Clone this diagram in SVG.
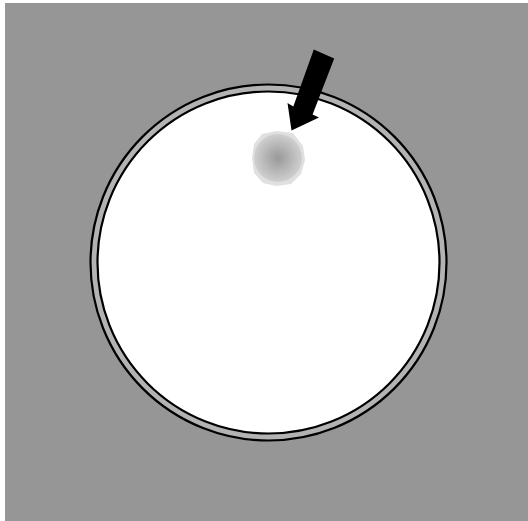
<svg xmlns="http://www.w3.org/2000/svg" width="528" height="521" viewBox="0 0 528 521">
<style>
.ring{stroke:#000;stroke-width:2.2}
</style>
<defs>
<radialGradient id="blobg" cx="50%" cy="50%" r="50%">
<stop offset="0" stop-color="#999"/>
<stop offset="0.8" stop-color="#c4c4c4"/>
<stop offset="1" stop-color="#cfcfcf"/>
</radialGradient>
</defs>
<rect x="0" y="0" width="528" height="521" fill="#fff"/>
<rect x="5" y="3" width="523" height="518" fill="#969696"/>
<g id="dish">
<circle class="ring" cx="268.5" cy="262.5" r="178" fill="#b3b3b3"/>
<circle class="ring" cx="268.5" cy="262.5" r="171" fill="#fff"/>
</g>
<g id="spot">
<polygon points="262,134 277,131 293,133 303,146 305,160 301,174 291,184 276,186 263,183 254,173 252,158 254,144" fill="#e0e0e0"/>
<circle cx="278" cy="158" r="24" fill="url(#blobg)"/>
</g>
<g id="arrow">
<polygon points="313.8,49.6 334.2,58.4 312.6,114.6 319,117.5 291.5,130.5 287.5,103 293.3,106.4" fill="#000"/>
</g>
</svg>
